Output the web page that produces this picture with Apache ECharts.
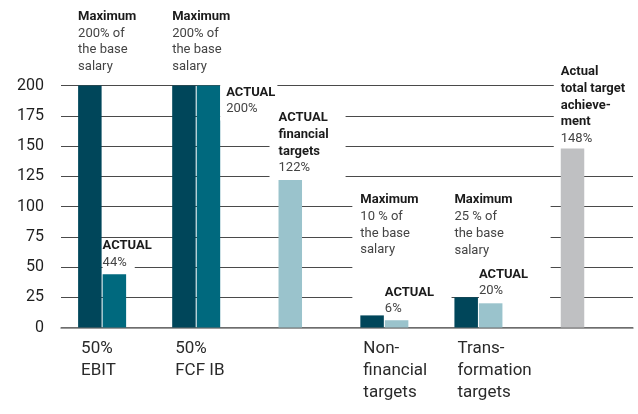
<!DOCTYPE html>
<html>
<head>
<meta charset="utf-8">
<script src="https://cdn.jsdelivr.net/npm/echarts@6/dist/echarts.min.js"></script>
<style>
  html, body { margin: 0; padding: 0; background: #fff; }
  #chart { width: 638px; height: 414px; }
</style>
</head>
<body>
<div id="chart"></div>
<script>
// Bonus target groups (x axis) and their values in % of the base salary
const groupLabels = ['50%\nEBIT', '50%\nFCF IB', '', 'Non-\nfinancial\ntargets', 'Trans-\nformation\ntargets', ''];
const maxValues = [200, 200, null, 10, 25, null];
const actualValues = [44, 200, null, 6, 20, null];
const overallValues = [null, null, 122, null, null, 148];
const actualTitles = ['ACTUAL', 'ACTUAL', 'ACTUAL\nfinancial\ntargets', 'ACTUAL', 'ACTUAL', 'Actual\ntotal target\nachieve-\nment'];
const maxPercentSigns = ['%', '%', '%', ' %', ' %', '%'];
const yMin = 0, yMax = 200, yStep = 25;

const FONT = 'Roboto';
const DARK = '#00465a', TEAL = '#00697e', LIGHT = '#9ac3cc', GREY = '#bfc0c2';
const actualColors = [TEAL, TEAL, LIGHT, LIGHT, LIGHT, GREY];

const rich = {
  t: { fontFamily: FONT, fontSize: 13, fontWeight: 'bold', color: '#1b1b1b', lineHeight: 16.7 },
  v: { fontFamily: FONT, fontSize: 13, color: '#444', lineHeight: 16.7 },
  vb: { fontFamily: FONT, fontSize: 13, color: '#444', lineHeight: 16.7, backgroundColor: '#fff', padding: [0, 8, 0, 0] }
};

// label placement per group (pixels, relative to the bar)
const maxLabelPlacement = {
  0: { offset: [0, -10.25] },
  1: { offset: [0, -10.25] },
  3: { padding: [2, 33, 45, 8], offset: [-8, -11.85], backgroundColor: '#fff' },
  4: { padding: [2, 38, 12, 8], offset: [-8, -26.65], backgroundColor: '#fff' }
};
const actualLabelPlacement = {
  0: { offset: [0, -3.05] },
  1: { position: ['100%', 0], verticalAlign: 'top', padding: [3, 2, 3, 6], offset: [0, -4.35], backgroundColor: '#fff' },
  2: { padding: [3, 17, 2, 9], offset: [-9, -1.45], backgroundColor: '#fff' },
  3: { offset: [0, -2.65] },
  4: { padding: [2, 22, 2, 0], offset: [0, -1.75], backgroundColor: '#fff' },
  5: { padding: [2, 11, 0, 7], offset: [-7, -1.15], backgroundColor: '#fff' }
};

function baseLabel(text, extra) {
  return Object.assign({
    show: true, position: [0, 0], align: 'left', verticalAlign: 'bottom',
    formatter: text, rich: rich
  }, extra || {});
}

function maxText(v, i) {
  return '{t|Maximum}\n{v|' + v + maxPercentSigns[i] + ' of}\n{v|the base}\n{v|salary}';
}
function actualText(v, i) {
  const title = actualTitles[i].split('\n').map(s => '{t|' + s + '}').join('\n');
  const valueToken = i === 0 ? 'vb' : 'v';
  return title + '\n{' + valueToken + '|' + v + '%}';
}

function items(values, build) {
  const out = [];
  values.forEach((v, i) => { if (v != null) out.push(build(v, i)); });
  return out;
}

const maxData = items(maxValues, (v, i) => ({
  value: [i, v],
  itemStyle: { color: DARK },
  label: baseLabel(maxText(v, i), maxLabelPlacement[i])
}));
const actualData = items(actualValues, (v, i) => ({
  value: [i, v],
  itemStyle: { color: actualColors[i] },
  label: baseLabel(actualText(v, i), actualLabelPlacement[i])
}));
const overallData = items(overallValues, (v, i) => ({
  value: [i, v],
  itemStyle: { color: actualColors[i] },
  label: baseLabel(actualText(v, i), actualLabelPlacement[i])
}));

const xMin = -0.437, xMax = 5.643;
const labelled = [];
groupLabels.forEach((s, i) => { if (s) labelled.push(i); });

const chart = echarts.init(document.getElementById('chart'), null, { renderer: 'canvas' });
chart.setOption({
  animation: false,
  backgroundColor: '#fff',
  grid: { left: 61, right: 5, top: 85.5, bottom: 86.5, containLabel: false, outerBoundsMode: 'none' },
  xAxis: [
    {
      type: 'value', min: xMin, max: xMax,
      splitLine: { show: false },
      axisTick: { show: false },
      axisLine: { show: true, lineStyle: { color: '#7a7a7a', width: 1.5 } },
      axisLabel: {
        customValues: labelled,
        margin: 10.5,
        align: 'center',
        formatter: (val) => groupLabels[Math.round(val)].split('\n').map(s => '{a|' + s + '}').join('\n'),
        rich: { a: { fontFamily: FONT, fontSize: 17, color: '#2a2a2a', lineHeight: 21.7, width: 42, align: 'left' } }
      }
    },
    { type: 'value', min: xMin, max: xMax, show: false }
  ],
  yAxis: {
    type: 'value', min: yMin, max: yMax, interval: yStep,
    axisLine: { show: false },
    axisTick: { show: false },
    axisLabel: { fontFamily: FONT, fontSize: 16, color: '#1f1f1f', margin: 17 },
    splitLine: { show: true, lineStyle: { color: '#4a4a4a', width: 1 } }
  },
  series: [
    { name: 'Maximum', type: 'bar', xAxisIndex: 0, barWidth: 23.5, barGap: '4.3%', data: maxData },
    { name: 'Actual', type: 'bar', xAxisIndex: 0, barWidth: 23.5, barGap: '4.3%', data: actualData },
    { name: 'Actual overall', type: 'bar', xAxisIndex: 1, barWidth: 23.5, data: overallData }
  ]
});
</script>
</body>
</html>
